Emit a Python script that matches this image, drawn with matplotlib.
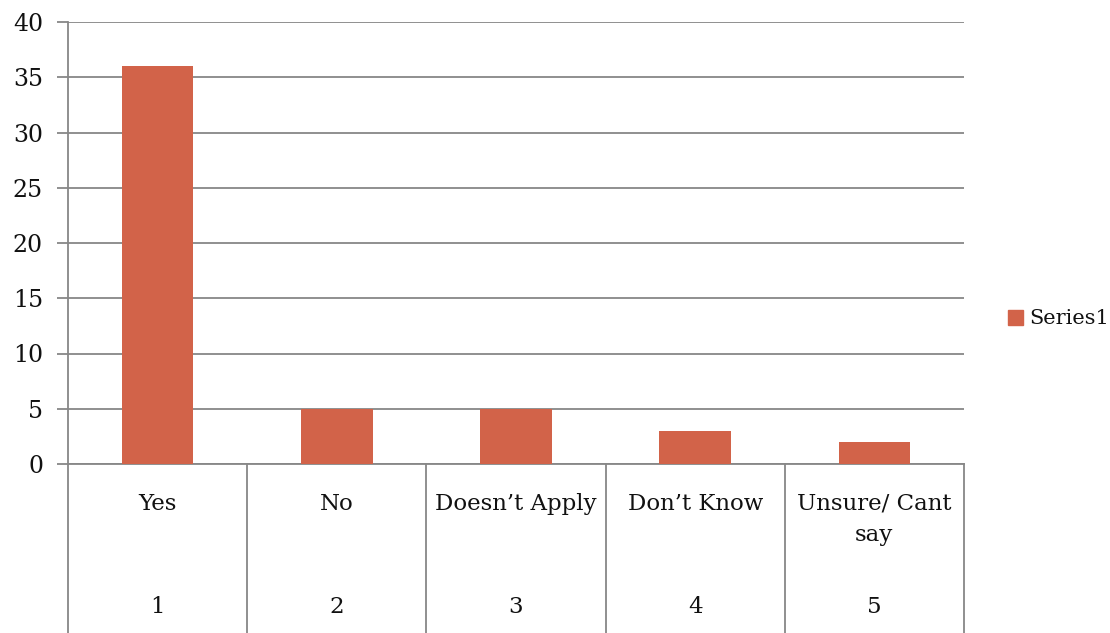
import matplotlib
matplotlib.use("Agg")
import matplotlib.pyplot as plt
from matplotlib.patches import Patch
from matplotlib.lines import Line2D
import matplotlib.transforms as mtransforms

categories = ["Yes", "No", "Doesn\u2019t Apply", "Don\u2019t Know", "Unsure/ Cant\nsay"]
numbers = ["1", "2", "3", "4", "5"]
values = [36, 5, 5, 3, 2]
series_name = "Series1"

bar_color = "#D26349"
grid_color = "#878787"
text_color = "#111111"
plt.rcParams["font.family"] = ["DejaVu Serif"]

fig = plt.figure(figsize=(11.10, 6.33), dpi=100)
ax = fig.add_axes([68/1110, 1-464/633, (964-68)/1110, (464-22)/633])

x = list(range(len(categories)))
ax.bar(x, values, width=0.4, color=bar_color, zorder=3)
ax.set_xlim(-0.5, len(categories) - 0.5)
ax.set_ylim(0, 40)
ax.set_yticks(range(0, 41, 5))
ax.yaxis.grid(True, color=grid_color, linewidth=1.3, zorder=0)
ax.set_xticks([])
for s in ["top", "right"]:
    ax.spines[s].set_visible(False)
for s in ["left", "bottom"]:
    ax.spines[s].set_color(grid_color)
    ax.spines[s].set_linewidth(1.3)
ax.tick_params(axis="y", length=8, width=1.3, color=grid_color, labelsize=17,
               labelcolor=text_color, pad=10)

# category table below the axis
trans = mtransforms.blended_transform_factory(ax.transData, ax.transAxes)
y_bottom = (464 - 633) / (464 - 22)
for b in [i - 0.5 for i in range(len(categories) + 1)]:
    ax.add_line(Line2D([b, b], [0, y_bottom], transform=trans, color=grid_color,
                       linewidth=1.3, clip_on=False))
for i, (c, n) in enumerate(zip(categories, numbers)):
    ax.text(i, (464 - 493) / 442, c, transform=trans, ha="center", va="top",
            fontsize=16.5, linespacing=1.5, color=text_color)
    ax.text(i, (464 - 607) / 442, n, transform=trans, ha="center", va="center",
            fontsize=16.5, color=text_color)

fig.legend(handles=[Patch(color=bar_color, label=series_name)],
           loc="center left", bbox_to_anchor=(998/1110, 1-319/633),
           frameon=False, fontsize=15, handlelength=0.7, handleheight=0.7,
           handletextpad=0.3, borderpad=0, labelcolor=text_color)

fig.savefig("out.png", dpi=100)
